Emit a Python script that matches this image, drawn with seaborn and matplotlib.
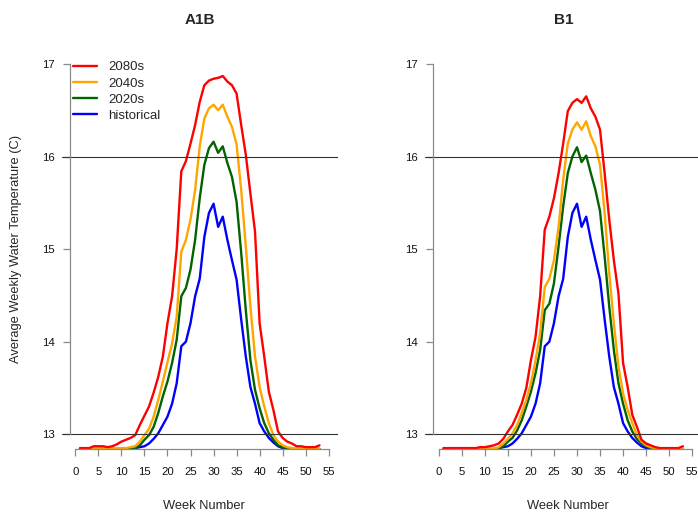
import matplotlib
matplotlib.use("Agg")
import matplotlib.pyplot as plt
import seaborn as sns
import numpy as np

sns.set_theme(style="white")
plt.rcParams['font.family'] = ['Liberation Sans', 'DejaVu Sans']

weeks = list(range(1, 54))

# historical curve (same in both panels)
historical = [12.84, 12.84, 12.84, 12.84, 12.84, 12.84, 12.84, 12.84, 12.84, 12.84,
              12.84, 12.84, 12.85, 12.86, 12.87, 12.90, 12.95, 13.01, 13.10, 13.19,
              13.33, 13.55, 13.95, 14.00, 14.20, 14.49, 14.68, 15.13, 15.39, 15.49,
              15.24, 15.35, 15.10, 14.88, 14.67, 14.24, 13.84, 13.51, 13.33, 13.12,
              13.03, 12.96, 12.91, 12.87, 12.85, 12.84, 12.84, 12.84, 12.84, 12.84,
              12.84, 12.84, 12.84]

a1b_2020s = [12.84, 12.84, 12.84, 12.84, 12.84, 12.84, 12.84, 12.84, 12.84, 12.84,
             12.84, 12.84, 12.85, 12.88, 12.94, 12.99, 13.08, 13.23, 13.41, 13.57,
             13.77, 14.02, 14.49, 14.58, 14.78, 15.10, 15.55, 15.91, 16.09, 16.16,
             16.04, 16.11, 15.93, 15.78, 15.51, 14.96, 14.34, 13.80, 13.48, 13.28,
             13.12, 13.01, 12.94, 12.88, 12.86, 12.85, 12.84, 12.84, 12.84, 12.84,
             12.84, 12.84, 12.84]

a1b_2040s = [12.84, 12.84, 12.84, 12.84, 12.84, 12.84, 12.84, 12.84, 12.85, 12.85,
             12.85, 12.86, 12.87, 12.92, 12.99, 13.06, 13.19, 13.37, 13.57, 13.78,
             13.98, 14.27, 14.97, 15.10, 15.32, 15.64, 16.11, 16.41, 16.52, 16.56,
             16.50, 16.56, 16.43, 16.32, 16.13, 15.64, 15.03, 14.38, 13.84, 13.51,
             13.30, 13.12, 12.99, 12.92, 12.88, 12.86, 12.85, 12.84, 12.84, 12.84,
             12.84, 12.84, 12.84]

a1b_2080s = [12.85, 12.85, 12.85, 12.87, 12.87, 12.87, 12.86, 12.87, 12.89, 12.92,
             12.94, 12.96, 12.99, 13.10, 13.20, 13.30, 13.45, 13.62, 13.84, 14.20,
             14.49, 15.00, 15.84, 15.95, 16.14, 16.34, 16.59, 16.77, 16.82, 16.84,
             16.85, 16.87, 16.81, 16.77, 16.68, 16.34, 16.02, 15.60, 15.19, 14.20,
             13.84, 13.46, 13.26, 13.03, 12.96, 12.92, 12.90, 12.87, 12.87, 12.86,
             12.86, 12.86, 12.88]

b1_2020s = [12.84, 12.84, 12.84, 12.84, 12.84, 12.84, 12.84, 12.84, 12.84, 12.84,
            12.84, 12.84, 12.84, 12.87, 12.92, 12.96, 13.04, 13.15, 13.30, 13.46,
            13.66, 13.91, 14.34, 14.41, 14.63, 15.03, 15.46, 15.82, 16.00, 16.10,
            15.94, 16.01, 15.82, 15.64, 15.41, 14.92, 14.38, 13.91, 13.55, 13.33,
            13.15, 13.03, 12.95, 12.90, 12.87, 12.85, 12.84, 12.84, 12.84, 12.84,
            12.84, 12.84, 12.84]

b1_2040s = [12.84, 12.84, 12.84, 12.84, 12.84, 12.84, 12.84, 12.84, 12.84, 12.84,
            12.84, 12.84, 12.86, 12.90, 12.95, 13.01, 13.10, 13.23, 13.37, 13.55,
            13.80, 14.09, 14.59, 14.68, 14.88, 15.24, 15.75, 16.14, 16.29, 16.37,
            16.29, 16.38, 16.22, 16.11, 15.91, 15.39, 14.74, 14.20, 13.73, 13.44,
            13.26, 13.12, 12.99, 12.92, 12.88, 12.86, 12.85, 12.84, 12.84, 12.84,
            12.84, 12.84, 12.84]

b1_2080s = [12.85, 12.85, 12.85, 12.85, 12.85, 12.85, 12.85, 12.85, 12.86, 12.86,
            12.87, 12.88, 12.90, 12.95, 13.03, 13.10, 13.21, 13.33, 13.50, 13.80,
            14.05, 14.49, 15.21, 15.35, 15.55, 15.82, 16.14, 16.49, 16.58, 16.62,
            16.58, 16.65, 16.52, 16.43, 16.29, 15.82, 15.32, 14.88, 14.52, 13.77,
            13.51, 13.21, 13.08, 12.94, 12.90, 12.88, 12.86, 12.85, 12.85, 12.85,
            12.85, 12.85, 12.87]

periods = ["historical", "2020s", "2040s", "2080s"]
colors = ["#0000FF", "#006400", "#FFA500", "#FF0000"]
panels = {"A1B": [historical, a1b_2020s, a1b_2040s, a1b_2080s],
          "B1": [historical, b1_2020s, b1_2040s, b1_2080s]}

xticks = [0, 5, 10, 15, 20, 25, 30, 35, 40, 45, 50, 55]
yticks = [13, 14, 15, 16, 17]

fig = plt.figure(figsize=(6.98, 5.12), dpi=100)
ax1 = fig.add_axes([0.0888, 0.123, 0.396, 0.781])
ax2 = fig.add_axes([0.6095, 0.123, 0.396, 0.781])

axis_col = "#8a8a8a"
for ax, (name, series) in zip([ax1, ax2], panels.items()):
    for lab, col, vals in zip(periods, colors, series):
        sns.lineplot(x=weeks, y=vals, color=col, lw=1.7, label=lab, ax=ax)
    ax.axhline(13, color="#333333", lw=0.8)
    ax.axhline(16, color="#333333", lw=0.8)
    ax.set_xlim(-2.9, 57.1)
    ax.set_ylim(12.84, 17.16)
    ax.set_xticks(xticks)
    ax.set_yticks(yticks)
    ax.set_yticklabels([str(t) for t in yticks], rotation=90, va="center")
    for s in ["top", "right"]:
        ax.spines[s].set_visible(False)
    ax.spines["left"].set_position(("data", -1.24))
    ax.spines["left"].set_bounds(13, 17)
    ax.spines["bottom"].set_bounds(0, 55)
    for s in ["left", "bottom"]:
        ax.spines[s].set_color(axis_col)
        ax.spines[s].set_linewidth(0.9)
    ax.tick_params(axis="both", colors=axis_col, labelcolor="#111111",
                   length=5, width=0.9, labelsize=8.2)
    ax.tick_params(axis="x", pad=8.2, bottom=True)
    ax.tick_params(axis="y", pad=6, left=True)
    ax.set_title(name, fontsize=11, fontweight="bold", pad=18)
    ax.set_xlabel("Week Number", fontsize=9.3)
    ax.xaxis.set_label_coords(0.515, -0.128)
    ax.set_ylabel("")
    if ax.get_legend() is not None:
        ax.get_legend().remove()

ax1.set_ylabel("Average Weekly Water Temperature (C)", fontsize=9.3)
ax1.yaxis.set_label_coords(-0.145, 0.5)

handles, labels = ax1.get_legend_handles_labels()
ax1.legend(handles[::-1], labels[::-1], loc="upper left",
           bbox_to_anchor=(0.039, 0.970), frameon=False, borderaxespad=0,
           borderpad=0, handlelength=1.86, handletextpad=0.8,
           labelspacing=0.3, fontsize=9.5)

fig.savefig("out.png", dpi=100)
